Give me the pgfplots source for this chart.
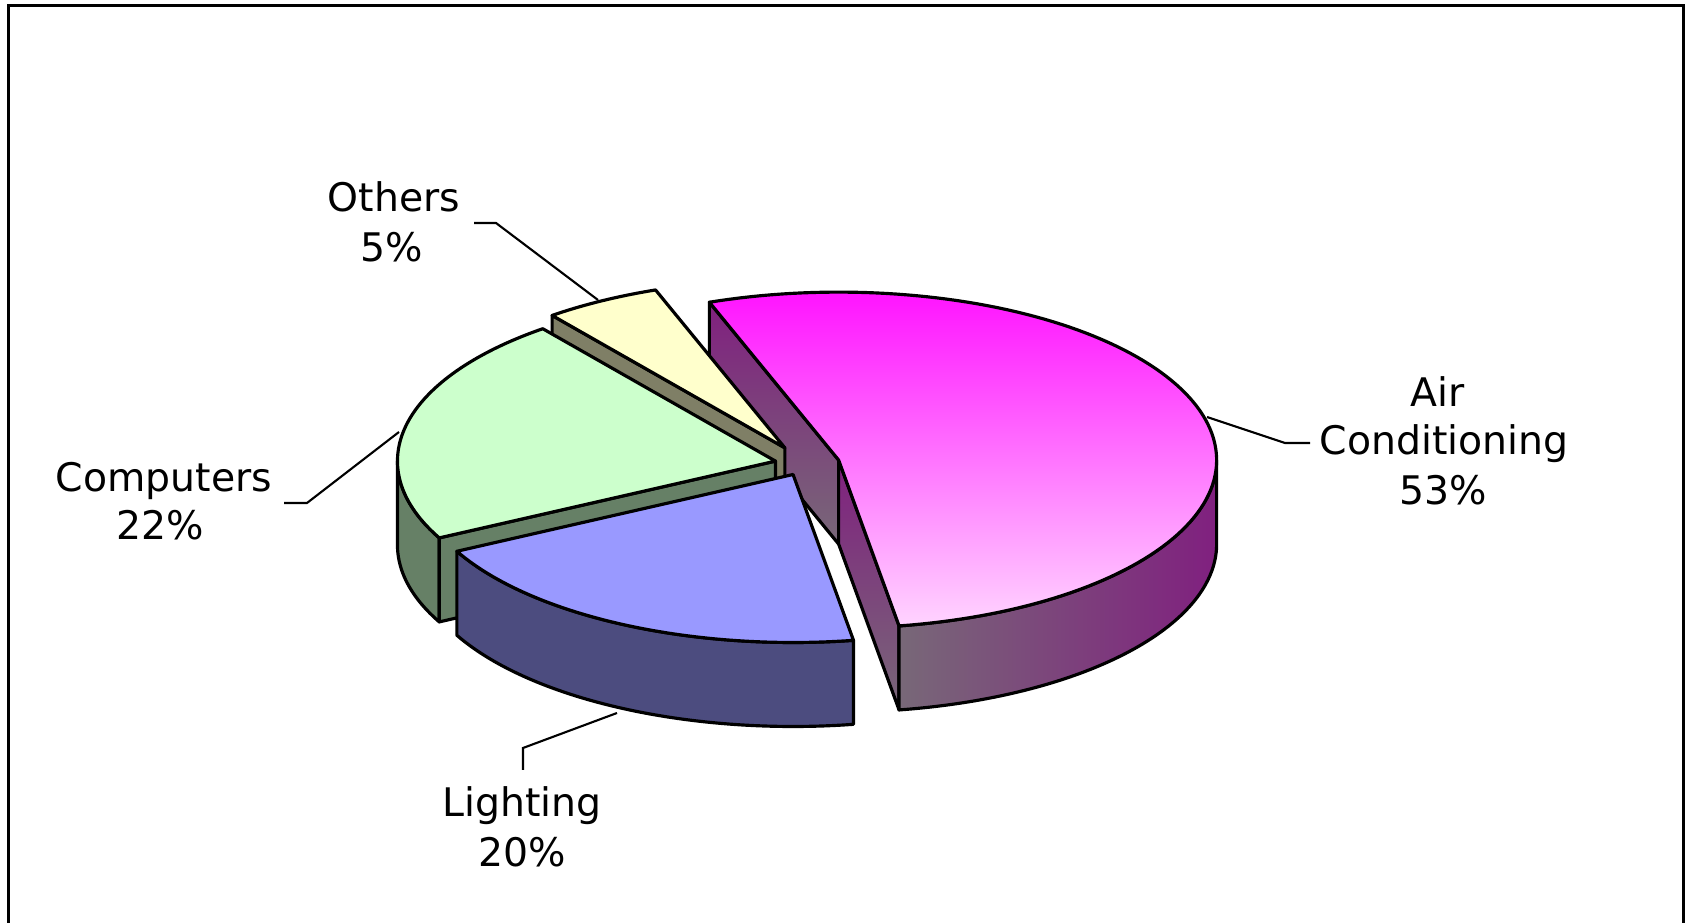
\documentclass[border=0pt]{standalone}
\usepackage{pgfplots}
\pgfplotsset{compat=1.18}
\usepackage{fontspec}
\setmainfont{DejaVu Sans}
\definecolor{acTop}{HTML}{FF14FF}
\definecolor{acBot}{HTML}{FFD4FF}
\definecolor{acDark}{HTML}{80207F}
\definecolor{acGray}{HTML}{786878}
\definecolor{ltTop}{HTML}{9999FF}
\definecolor{ltSide}{HTML}{4C4C7F}
\definecolor{cpTop}{HTML}{CCFFCC}
\definecolor{cpSide}{HTML}{668066}
\definecolor{otTop}{HTML}{FFFFCC}
\definecolor{otSide}{HTML}{7F7F66}

% top face of a slice: apex x, apex y, angle low, angle high, style
\newcommand\pieTop[5]{\addplot[draw=black,line width=0.9pt,line join=round,#5,domain=#3:#4,samples=120,variable=\t]
 ({#1+\ra*cos(\t)},{#2+\rb*sin(\t)}) -- (axis cs:#1,#2) -- cycle;}
% outer wall of a slice between two angles
\newcommand\pieWall[5]{\addplot[draw=black,line width=0.9pt,line join=round,#5,samples at={0,1,...,80,100,101,...,180},variable=\s]
 ({#1+\ra*cos((#3)+((#4)-(#3))*((\s<90) ? (\s/80) : ((180-\s)/80)))},
  {#2+\rb*sin((#3)+((#4)-(#3))*((\s<90) ? (\s/80) : ((180-\s)/80)))-(\s>90)*\dep}) -- cycle;}
% radial cut face at one angle
\newcommand\pieRad[4]{%
 \pgfmathsetmacro\rx{#1+\ra*cos(#3)}\pgfmathsetmacro\ry{#2+\rb*sin(#3)}%
 \pgfmathsetmacro\ryb{\ry-\dep}\pgfmathsetmacro\pyb{#2-\dep}%
 \edef\temp{\noexpand\addplot[draw=black,line width=0.9pt,line join=round,#4] coordinates {(#1,#2) (\rx,\ry) (\rx,\ryb) (#1,\pyb)} -- cycle;}\temp}

\begin{document}
\begin{tikzpicture}
% ---- data (percent) ----
\def\vAC{53}% Air Conditioning
\def\vL{20}% Lighting
\def\vC{22}% Computers
\def\vO{5}% Others
% ---- geometry ----
\def\cx{805}\def\cy{459}\def\ra{378}\def\rb{168}\def\dep{84}
\pgfmathsetmacro\aA{110}
\pgfmathsetmacro\aB{\aA-3.6*\vAC}
\pgfmathsetmacro\aC{\aB-3.6*\vL}
\pgfmathsetmacro\aD{\aC-3.6*\vC}
\pgfmathsetmacro\aE{\aD-3.6*\vO}
% exploded apexes
\pgfmathsetmacro\pAx{\cx+0.092*\ra*cos((\aA+\aB)/2)}\pgfmathsetmacro\pAy{\cy+0.092*\rb*sin((\aA+\aB)/2)}
\pgfmathsetmacro\pLx{\cx+0.07*\ra*cos((\aB+\aC)/2)}\pgfmathsetmacro\pLy{\cy+0.07*\rb*sin((\aB+\aC)/2)}
\pgfmathsetmacro\pCx{\cx+0.08*\ra*cos((\aC+\aD)/2)}\pgfmathsetmacro\pCy{\cy+0.08*\rb*sin((\aC+\aD)/2)}
\pgfmathsetmacro\pOx{\cx+0.11*\ra*cos((\aD+\aE)/2)}\pgfmathsetmacro\pOy{\cy+0.11*\rb*sin((\aD+\aE)/2)}
\begin{axis}[width=16.9cm,height=9.23cm,scale only axis,xmin=0,xmax=1690,ymin=0,ymax=923,hide axis,clip=false]
% Air Conditioning
\pieRad{\pAx}{\pAy}{\aA}{top color=acDark,bottom color=acGray}
\pieRad{\pAx}{\pAy}{\aB}{top color=acDark,bottom color=acGray}
\pieWall{\pAx}{\pAy}{\aB}{0}{left color=acGray,right color=acDark}
\pieTop{\pAx}{\pAy}{\aB}{\aA}{top color=acTop,bottom color=acBot}
% Others
\pieRad{\pOx}{\pOy}{\aD}{fill=otSide}
\pieTop{\pOx}{\pOy}{\aE}{\aD}{fill=otTop}
% Computers
\pieWall{\pCx}{\pCy}{-180}{\aC}{fill=cpSide}
\pieRad{\pCx}{\pCy}{\aC}{fill=cpSide}
\pieTop{\pCx}{\pCy}{\aD}{\aC}{fill=cpTop}
% Lighting
\pieWall{\pLx}{\pLy}{\aC}{\aB}{fill=ltSide}
\pieTop{\pLx}{\pLy}{\aC}{\aB}{fill=ltTop}
% leader lines
\draw[line width=0.6pt] (axis cs:1207,506) -- (axis cs:1285,480) -- (axis cs:1310,480);
\draw[line width=0.6pt] (axis cs:474,700) -- (axis cs:496,700) -- (axis cs:598,623);
\draw[line width=0.6pt] (axis cs:284,420) -- (axis cs:307,420) -- (axis cs:399,491);
\draw[line width=0.6pt] (axis cs:523,153) -- (axis cs:523,175) -- (axis cs:617,210);
% labels
\begin{scope}[every node/.style={anchor=base,inner sep=0pt,font=\fontsize{11.2}{13.5}\selectfont}]
\node at (axis cs:1438,516) {Air};
\node at (axis cs:1444,468) {Conditioning};
\node at (axis cs:1443,418) {53\%};
\node at (axis cs:394,711) {Others};
\node at (axis cs:392,661) {5\%};
\node at (axis cs:164,431) {Computers};
\node at (axis cs:160,383) {22\%};
\node at (axis cs:522,106) {Lighting};
\node at (axis cs:522,56) {20\%};
\end{scope}
% chart frame
\draw[line width=0.85pt] (axis cs:8.5,-30) -- (axis cs:8.5,917) -- (axis cs:1683.5,917) -- (axis cs:1683.5,-30);
\end{axis}
\pgfresetboundingbox
\path (current axis.south west) rectangle (current axis.north east);
\end{tikzpicture}
\end{document}
